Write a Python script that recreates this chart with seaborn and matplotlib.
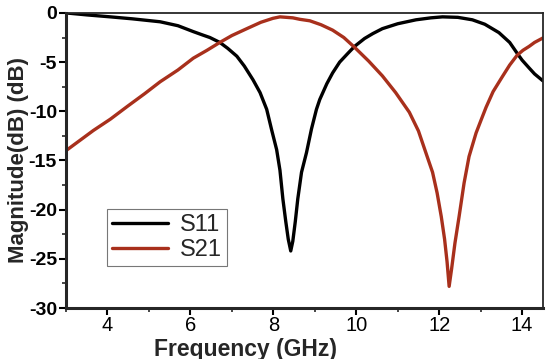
import numpy as np
import pandas as pd
import matplotlib
matplotlib.use("Agg")
import matplotlib.pyplot as plt
import seaborn as sns
from matplotlib.ticker import MultipleLocator

# S11 (GHz, dB)
s11_freq = [3.0, 3.5, 4.07, 4.6, 5.27, 5.7, 6.07, 6.3, 6.47, 6.71, 6.9, 7.12, 7.3,
            7.51, 7.68, 7.84, 7.96, 8.08, 8.16, 8.23, 8.3, 8.36, 8.42, 8.47, 8.53,
            8.59, 8.68, 8.8, 8.92, 9.04, 9.12, 9.29, 9.43, 9.6, 9.8, 9.96, 10.2,
            10.4, 10.63, 11.0, 11.44, 11.8, 12.08, 12.45, 12.8, 13.1, 13.44, 13.7,
            13.88, 14.0, 14.17, 14.3, 14.5]
s11_db = [0.0, -0.2, -0.4, -0.6, -0.9, -1.3, -1.9, -2.25, -2.5, -3.0, -3.6, -4.4,
          -5.4, -6.8, -8.1, -9.8, -11.9, -13.9, -16.0, -18.9, -21.2, -23.0, -24.2,
          -23.2, -21.2, -18.9, -16.2, -14.2, -11.8, -9.8, -8.8, -7.2, -6.1, -5.0,
          -4.1, -3.4, -2.6, -2.1, -1.6, -1.1, -0.7, -0.5, -0.4, -0.45, -0.7, -1.15,
          -2.0, -3.0, -4.1, -4.8, -5.6, -6.2, -6.9]

# S21 (GHz, dB)
s21_freq = [3.0, 3.66, 4.07, 4.48, 4.9, 5.27, 5.7, 6.07, 6.4, 6.71, 7.0, 7.36, 7.7,
            7.99, 8.16, 8.47, 8.64, 8.88, 9.15, 9.43, 9.7, 9.96, 10.3, 10.63, 10.95,
            11.28, 11.5, 11.71, 11.84, 11.95, 12.05, 12.13, 12.19, 12.24, 12.3,
            12.38, 12.48, 12.6, 12.72, 12.89, 13.0, 13.13, 13.3, 13.52, 13.7, 13.88,
            14.02, 14.17, 14.3, 14.5]
s21_db = [-14.0, -11.95, -10.8, -9.5, -8.2, -7.0, -5.8, -4.6, -3.8, -3.0, -2.3, -1.6,
          -0.95, -0.55, -0.4, -0.5, -0.65, -0.8, -1.2, -1.75, -2.5, -3.5, -4.9, -6.4,
          -8.1, -10.1, -12.0, -14.6, -16.2, -18.3, -20.7, -23.0, -25.3, -27.8,
          -26.0, -23.4, -20.7, -17.3, -14.6, -12.2, -11.0, -9.6, -8.0, -6.5, -5.3,
          -4.3, -3.8, -3.4, -3.0, -2.55]

x_ticks = [4, 6, 8, 10, 12, 14]
y_ticks = [0, -5, -10, -15, -20, -25, -30]

df = pd.concat([
    pd.DataFrame({"freq": s11_freq, "db": s11_db, "trace": "S11"}),
    pd.DataFrame({"freq": s21_freq, "db": s21_db, "trace": "S21"}),
])

sns.set_style("ticks")
plt.rcParams["font.family"] = ["Liberation Sans", "DejaVu Sans"]
plt.rcParams["axes.unicode_minus"] = False

fig = plt.figure(figsize=(5.5, 3.59), dpi=100)
ax = fig.add_axes([0.12, 0.142, 0.867, 0.822])

sns.lineplot(data=df, x="freq", y="db", hue="trace", sort=False,
             palette={"S11": "#000000", "S21": "#a8301c"},
             linewidth=2.4, ax=ax, estimator=None,
             solid_joinstyle="round", solid_capstyle="round")

ax.set_xlim(3, 14.5)
ax.set_ylim(-30, 0)
ax.set_xticks(x_ticks)
ax.set_yticks(y_ticks)
ax.xaxis.set_minor_locator(MultipleLocator(1))
ax.yaxis.set_minor_locator(MultipleLocator(2.5))
ax.tick_params(which="major", direction="out", length=5, width=1.5, pad=1.5,
               colors="black")
ax.tick_params(which="minor", direction="out", length=3, width=1.2)
ax.tick_params(axis="x", labelsize=14.5, pad=1)
ax.tick_params(axis="y", labelsize=14)
for lab in ax.get_yticklabels():
    lab.set_fontweight("bold")

for side in ["left", "bottom"]:
    ax.spines[side].set_linewidth(2.2)
for side in ["top", "right"]:
    ax.spines[side].set_visible(True)
    ax.spines[side].set_linewidth(1.3)

ax.set_xlabel("Frequency (GHz)", fontsize=16.5, fontweight="bold")
ax.set_ylabel("Magnitude(dB) (dB)", fontsize=16, fontweight="bold")
ax.xaxis.set_label_coords(0.377, -0.1)
ax.yaxis.set_label_coords(-0.077, 0.5)

leg = ax.legend(loc="lower left", bbox_to_anchor=(0.086, 0.142), fontsize=17,
                frameon=True, fancybox=False, handlelength=2.4, borderpad=0.2,
                labelspacing=0.15, handletextpad=0.5, borderaxespad=0)
leg.get_frame().set_edgecolor("#555555")
leg.get_frame().set_linewidth(0.8)
for line in leg.get_lines():
    line.set_linewidth(2.4)

fig.savefig("out.png", dpi=100)
